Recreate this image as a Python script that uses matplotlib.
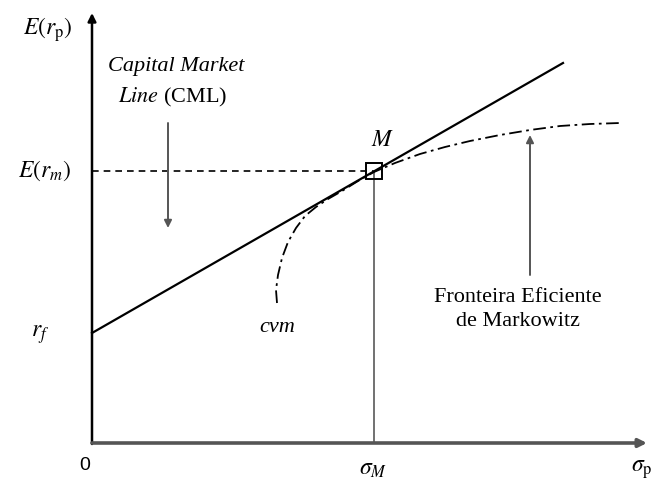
import matplotlib.pyplot as plt

# ---------------------------------------------------
# data (diagram units, origin at the axes crossing)
# ---------------------------------------------------
rf = 110            # risk-free rate on the vertical axis
sigma_m = 282       # market portfolio risk
e_rm = 272          # market portfolio expected return

# Capital Market Line end points
cml_x = [0, 471]
cml_y = [rf, 380]

# Markowitz efficient frontier
front_x = [185, 184, 186, 190, 196, 204, 213, 224, 236, 250, 266, 282,
           303, 328, 353, 378, 408, 438, 468, 498, 528]
front_y = [140, 153, 168, 185, 201, 215, 227, 236, 244, 252, 262, 271,
           280, 289, 296, 302, 308, 313, 317, 319, 320]

x_end = 555
y_end = 430

plt.rcParams['mathtext.fontset'] = 'stix'
plt.rcParams['font.family'] = ['Liberation Serif', 'DejaVu Serif']

fig = plt.figure(figsize=(6.53, 4.82), dpi=100)
ax = fig.add_axes([0, 0, 1, 1])
ax.set_xlim(-92, 561)
ax.set_ylim(-39, 443)
ax.axis('off')

# axes with arrows
ax.annotate('', xy=(0, y_end), xytext=(0, -1),
            arrowprops=dict(arrowstyle='-|>', color='black', lw=1.8,
                            mutation_scale=12, shrinkA=0, shrinkB=0))
ax.annotate('', xy=(x_end, 0), xytext=(0, 0),
            arrowprops=dict(arrowstyle='-|>', color='#555555', lw=2.6,
                            mutation_scale=12, shrinkA=0, shrinkB=0))

# guide lines to M
ax.plot([0, sigma_m], [e_rm, e_rm], color='black', lw=1.2,
        dashes=(4, 3))
ax.plot([sigma_m, sigma_m], [0, e_rm], color='#666666', lw=1.3)

# CML and frontier
ax.plot(cml_x, cml_y, color='black', lw=1.6)
ax.plot(front_x, front_y, color='black', lw=1.3,
        dashes=(7, 2.5, 1.5, 2.5))
ax.plot([sigma_m], [e_rm], marker='s', ms=11.5, mfc='none',
        mec='black', mew=1.4)

# pointer arrows
ax.annotate('', xy=(76, 215), xytext=(76, 320),
            arrowprops=dict(arrowstyle='-|>', color='#555555', lw=1.4,
                            mutation_scale=11, shrinkA=0, shrinkB=0))
ax.annotate('', xy=(438, 308), xytext=(438, 168),
            arrowprops=dict(arrowstyle='-|>', color='#555555', lw=1.4,
                            mutation_scale=11, shrinkA=0, shrinkB=0))

# labels
fs = 16
ms = 17
ax.text(-44, 413, r'$E(r_{\mathrm{p}})$', fontsize=ms, ha='center', va='center')
ax.text(-47, 272, r'$E(r_m)$', fontsize=ms, ha='center', va='center')
ax.text(-52, 108, r'$r_f$', fontsize=ms, ha='center', va='center')
ax.text(-7, -23, '0', fontsize=14, ha='center', va='center',
        family='Liberation Sans')
ax.text(281, -27, r'$\sigma_M$', fontsize=ms, ha='center', va='center')
ax.text(550, -27, r'$\sigma_{\mathrm{p}}$', fontsize=ms, ha='center', va='center')
ax.text(291, 303, r'$M$', fontsize=ms, ha='center', va='center')
ax.text(185, 115, 'cvm', fontsize=fs, style='italic', ha='center', va='center')
ax.text(84, 377, 'Capital Market', fontsize=fs, style='italic',
        ha='center', va='center')
ax.text(81, 346, r'$\mathit{Line}$ (CML)', fontsize=fs, ha='center', va='center')
ax.text(426, 146, 'Fronteira Eficiente', fontsize=fs, ha='center', va='center')
ax.text(426, 121, 'de Markowitz', fontsize=fs, ha='center', va='center')

fig.savefig('out.png', dpi=100)
